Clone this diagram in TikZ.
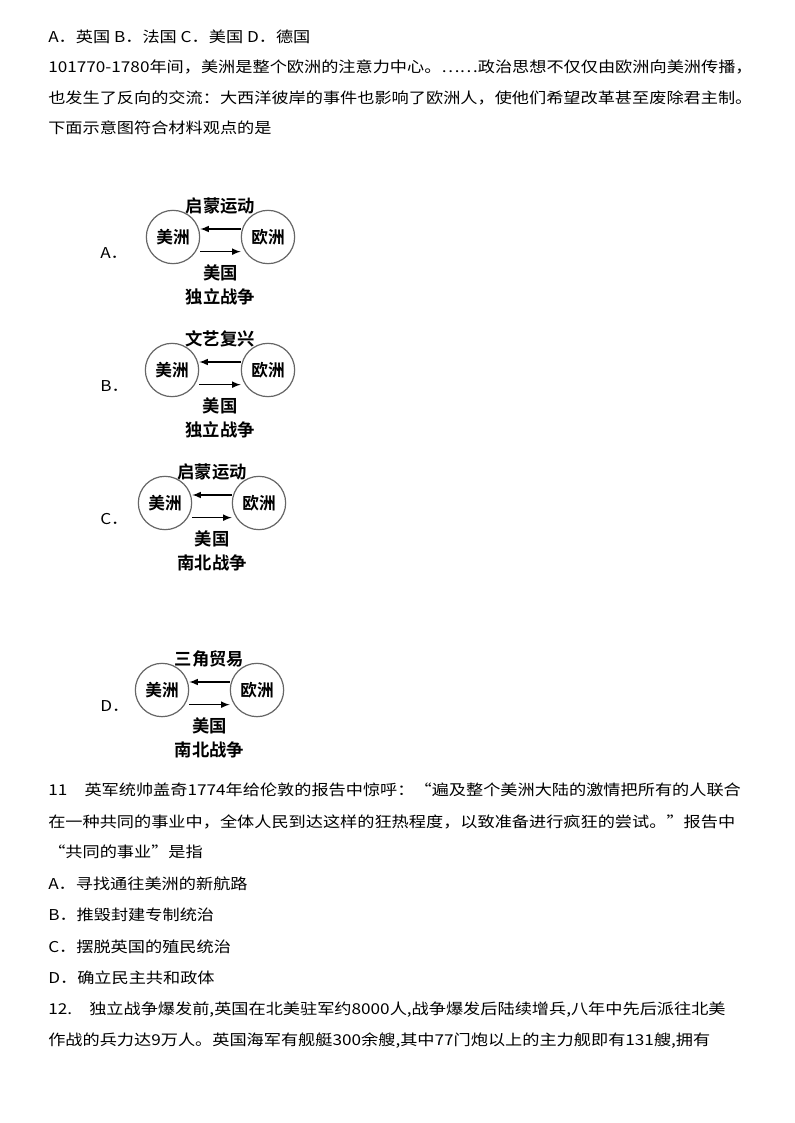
\documentclass[tikz,border=0pt]{standalone}
\usepackage{fontspec}
\setmainfont{Liberation Serif}
\newfontfamily\cjk{Noto Sans CJK SC}
\newfontfamily\cjkb{Noto Sans CJK SC Bold}
\newcommand{\wide}[1]{\scalebox{1.15}[1]{#1}}
\begin{document}
\begin{tikzpicture}[x=0.75pt,y=-0.75pt,
  txt/.style={anchor=west,inner sep=0pt,font=\cjk\fontsize{11.2pt}{13pt}\selectfont},
  ring/.style={circle,draw=black!60,line width=0.9pt,minimum size=40pt,inner sep=0pt,font=\cjkb\fontsize{12.5pt}{13pt}\selectfont},
  lab/.style={inner sep=0pt,font=\cjkb\fontsize{13pt}{18pt}\selectfont,align=center},
  arr/.style={-latex,line width=1.2pt}]
\useasboundingbox (0,0) rectangle (794,1123);
\fill[white] (0,0) rectangle (794,1123);
\node[txt] (l1) at (48,37) {\wide{A．英国 B．法国 C．美国 D．德国}};
\node[txt] (l2) at (48,67) {\wide{101770-1780年间，美洲是整个欧洲的注意力中心。……政治思想不仅仅由欧洲向美洲传播，}};
\node[txt] (l3) at (48,98) {\wide{也发生了反向的交流：大西洋彼岸的事件也影响了欧洲人，使他们希望改革甚至废除君主制。}};
\node[txt] (l4) at (48,128) {\wide{下面示意图符合材料观点的是}};
% diagrams
\foreach \id/\y/\xa/\xb/\top/\bot/\lt in {A/237/173/268/启蒙运动/独立战争/A,B/370/172/268/文艺复兴/独立战争/B,C/503/165/259/启蒙运动/南北战争/C,D/690/162/257/三角贸易/南北战争/D}{
  \node[txt] (o\id) at (100,\y+16) {\wide{\lt．}};
  \node[ring] (m\id) at (\xa,\y) {美洲};
  \node[ring] (e\id) at (\xb,\y) {欧洲};
  \node[lab] (t\id) at ({(\xa+\xb)/2},\y-31) {\top};
  \node[lab] (b\id) at ({(\xa+\xb)/2},\y+48) {美国\\\bot};
  \draw[arr] ([yshift=6pt]e\id.west) -- ([yshift=6pt]m\id.east);
  \draw[arr] ([yshift=-11pt]m\id.east) -- ([yshift=-11pt]e\id.west);
}
\node[txt] (q1) at (48,790) {\wide{11\quad 英军统帅盖奇1774年给伦敦的报告中惊呼：“遍及整个美洲大陆的激情把所有的人联合}};
\node[txt] (q2) at (48,822) {\wide{在一种共同的事业中，全体人民到达这样的狂热程度，以致准备进行疯狂的尝试。”报告中}};
\node[txt] (q3) at (48,852) {\wide{“共同的事业”是指}};
\node[txt] (q4) at (48,884) {\wide{A．寻找通往美洲的新航路}};
\node[txt] (q5) at (48,915) {\wide{B．推毁封建专制统治}};
\node[txt] (q6) at (48,947) {\wide{C．摆脱英国的殖民统治}};
\node[txt] (q7) at (48,978) {\wide{D．确立民主共和政体}};
\node[txt] (q8) at (48,1010) {\wide{12.\quad 独立战争爆发前,英国在北美驻军约8000人,战争爆发后陆续增兵,八年中先后派往北美}};
\node[txt] (q9) at (48,1041) {\wide{作战的兵力达9万人。英国海军有舰艇300余艘,其中77门炮以上的主力舰即有131艘,拥有}};
\end{tikzpicture}
\end{document}
